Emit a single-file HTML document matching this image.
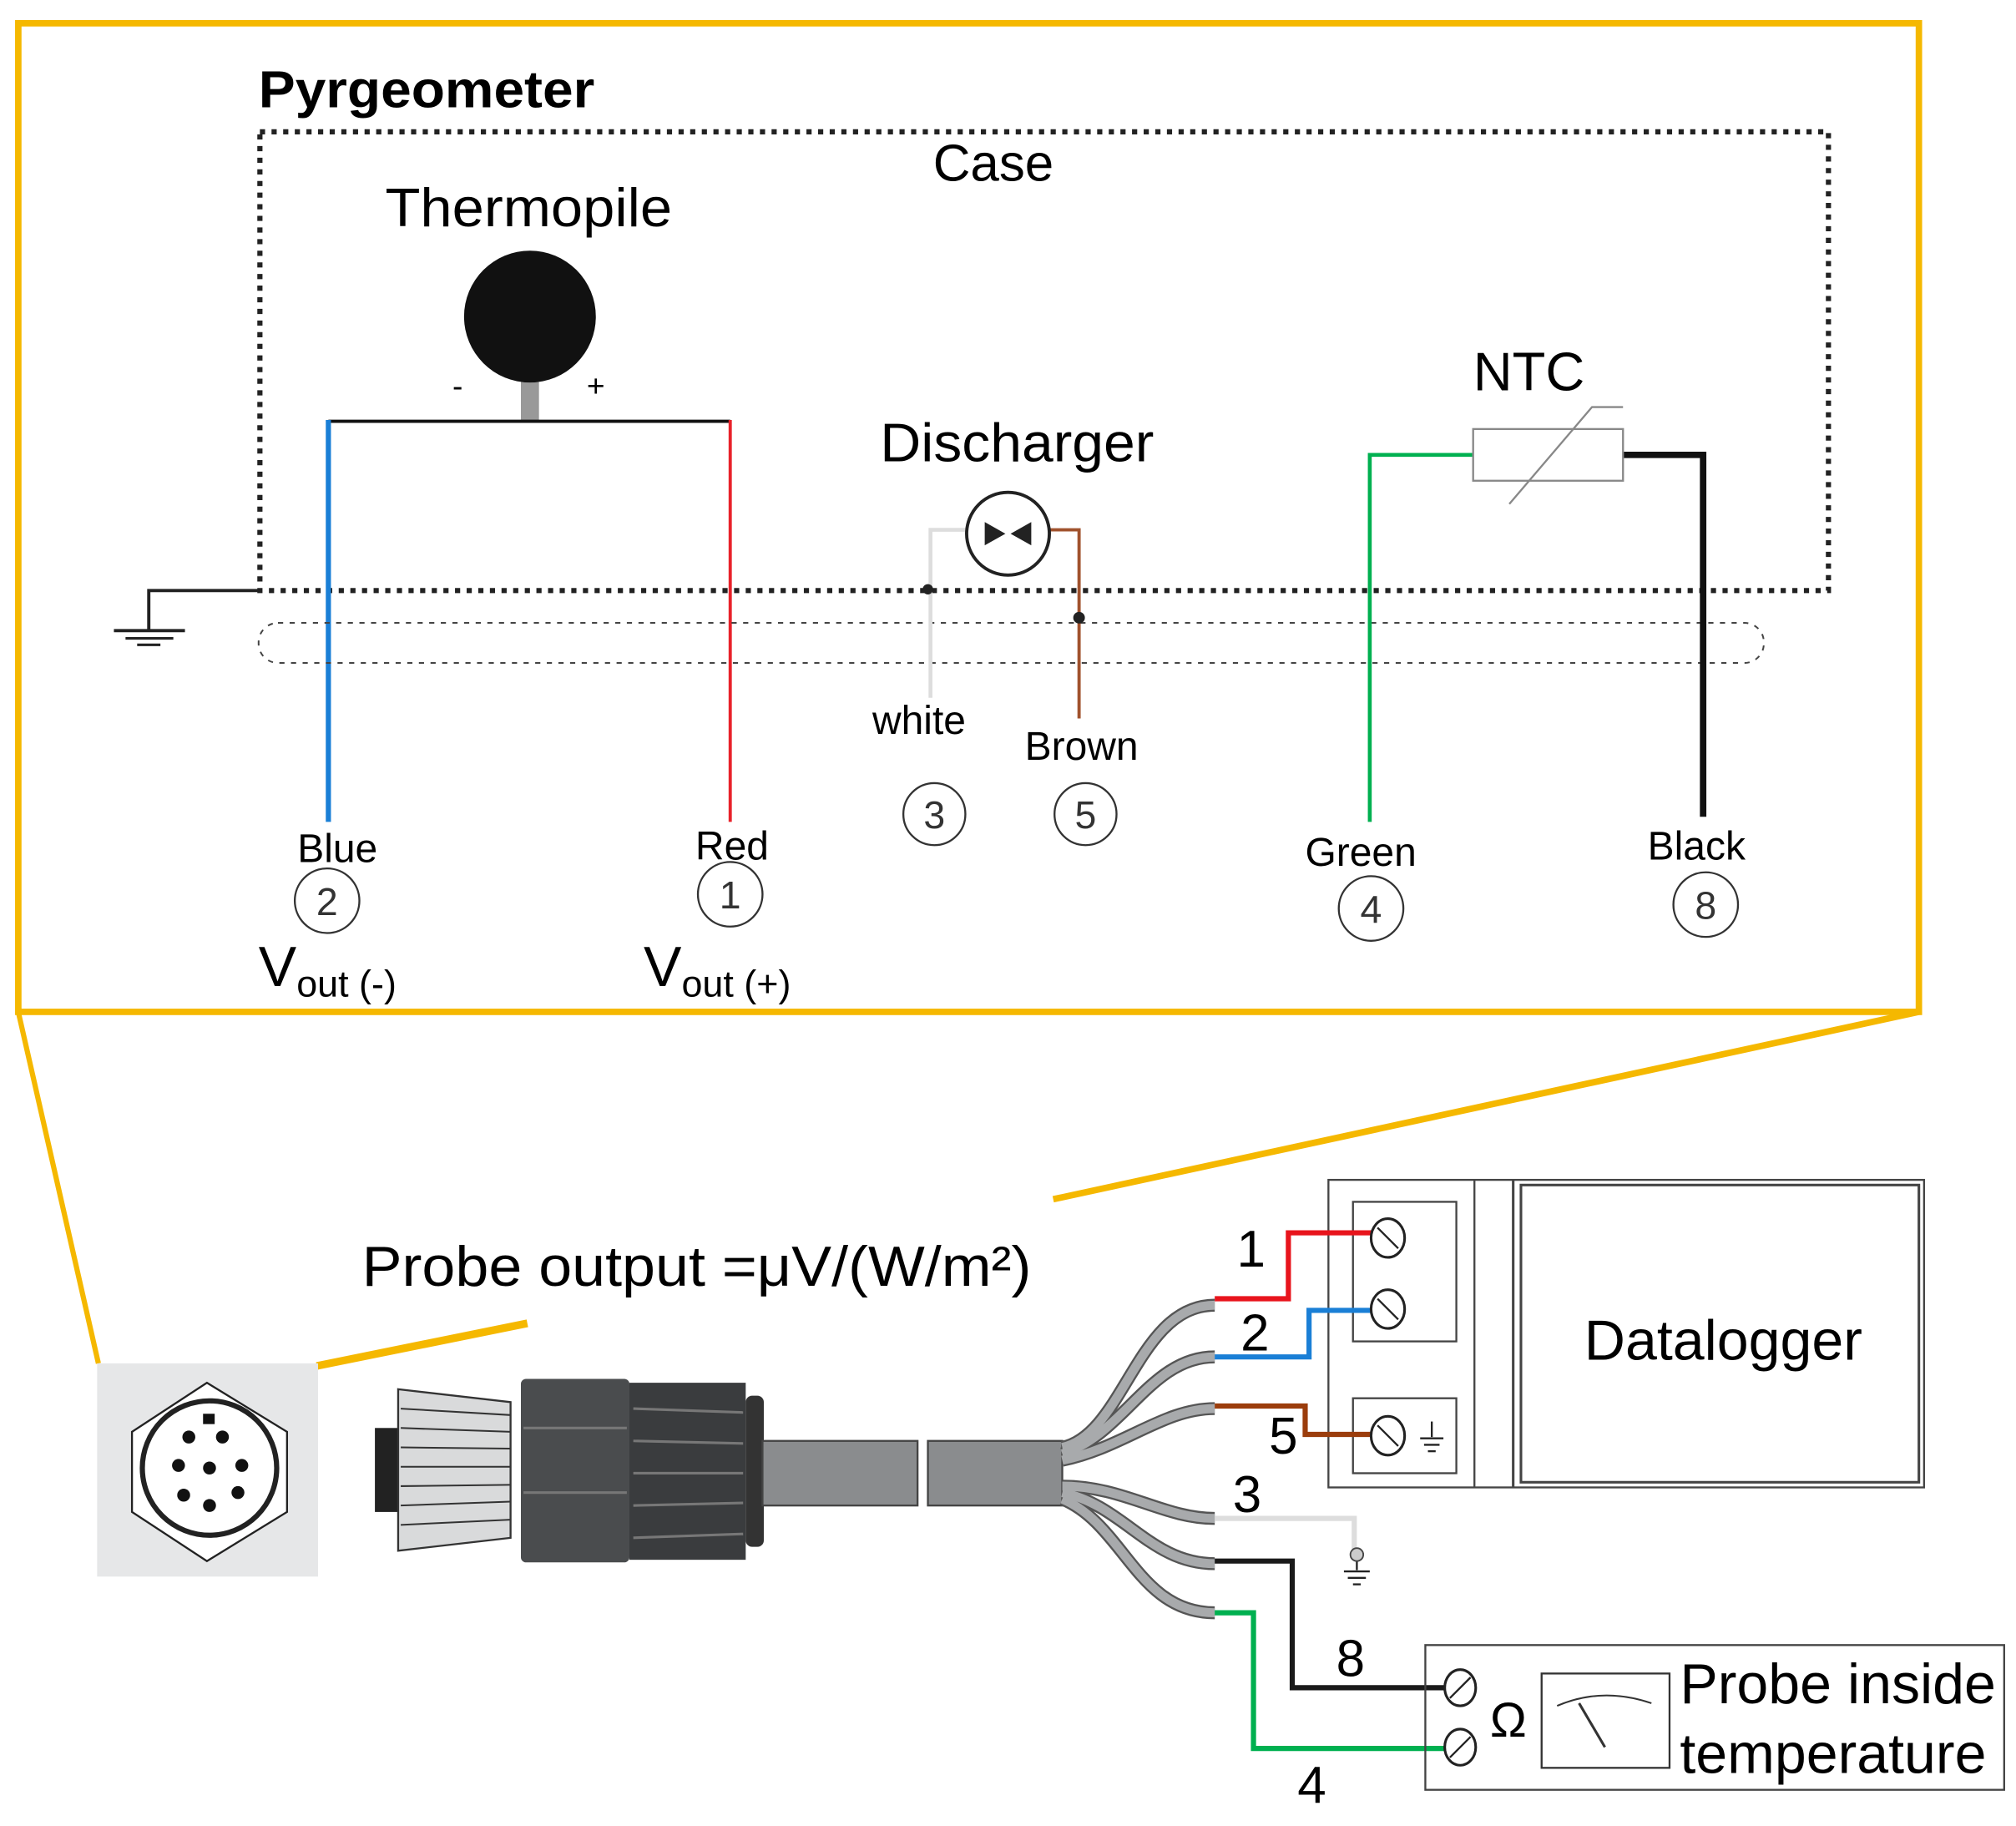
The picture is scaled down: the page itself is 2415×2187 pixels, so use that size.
<!DOCTYPE html>
<html><head><meta charset="utf-8"><style>html,body{margin:0;padding:0;background:#fff}svg{display:block}</style></head>
<body>
<svg width="2415" height="2187" viewBox="0 0 1560 1413" xmlns="http://www.w3.org/2000/svg" font-family="Liberation Sans, sans-serif">
<rect width="1560" height="1413" fill="#fff"/>
<!-- yellow frame -->
<rect x="14" y="18" width="1471" height="765" fill="none" stroke="#f5b800" stroke-width="5"/>
<line x1="14" y1="783" x2="76" y2="1055" stroke="#f5b800" stroke-width="4"/>
<line x1="1485" y1="783" x2="815" y2="928" stroke="#f5b800" stroke-width="5"/>
<line x1="245" y1="1057" x2="408" y2="1024" stroke="#f5b800" stroke-width="6"/>
<text x="200" y="83" font-size="40" font-weight="bold" textLength="260" lengthAdjust="spacingAndGlyphs">Pyrgeometer</text>
<rect x="201" y="102" width="1214" height="355" fill="none" stroke="#222" stroke-width="4" stroke-dasharray="4 5"/>
<text x="722" y="140" font-size="40">Case</text>
<!-- thermopile -->
<text x="298" y="175" font-size="42" textLength="222" lengthAdjust="spacingAndGlyphs">Thermopile</text>
<rect x="403" y="288" width="14" height="38" fill="#999"/>
<circle cx="410" cy="245" r="51" fill="#111"/>
<polyline points="254,326 565,326" stroke="#111" stroke-width="2.5" fill="none"/>
<text x="350" y="307" font-size="24">-</text>
<text x="454" y="307" font-size="24">+</text>
<line x1="254" y1="325" x2="254" y2="636" stroke="#1a7fd6" stroke-width="4"/>
<line x1="565" y1="325" x2="565" y2="636" stroke="#e8222a" stroke-width="2.5"/>
<!-- ground left -->
<polyline points="200,457 115,457 115,487" stroke="#222" stroke-width="2.5" fill="none"/>
<line x1="88" y1="488" x2="143" y2="488" stroke="#222" stroke-width="2.5"/>
<line x1="97" y1="494" x2="134" y2="494" stroke="#222" stroke-width="2"/>
<line x1="106" y1="499" x2="124" y2="499" stroke="#222" stroke-width="2"/>
<!-- cable outline -->
<rect x="200" y="482" width="1165" height="31" rx="15" fill="none" stroke="#444" stroke-width="1.3" stroke-dasharray="4 5"/>
<!-- discharger -->
<text x="681" y="357" font-size="42" textLength="212" lengthAdjust="spacingAndGlyphs">Discharger</text>
<polyline points="748,410 720,410 720,540" stroke="#ddd" stroke-width="3" fill="none"/>
<polyline points="812,410 835,410 835,556" stroke="#a0522d" stroke-width="2.5" fill="none"/>
<circle cx="780" cy="413" r="32" fill="#fff" stroke="#222" stroke-width="2.5"/>
<polygon points="762,404 762,422 778,413" fill="#222"/>
<polygon points="798,404 798,422 782,413" fill="#222"/>
<circle cx="718" cy="456" r="4" fill="#222"/>
<circle cx="835" cy="478" r="4.5" fill="#222"/>
<text x="675" y="568" font-size="31">white</text>
<text x="793" y="588" font-size="31">Brown</text>
<g fill="none" stroke="#333" stroke-width="1.5">
<circle cx="723" cy="630" r="24"/><circle cx="840" cy="630" r="24"/>
<circle cx="253" cy="697" r="25"/><circle cx="565" cy="692" r="25"/>
<circle cx="1061" cy="703" r="25"/><circle cx="1320" cy="700" r="25"/>
</g>
<g font-size="30" fill="#333" text-anchor="middle">
<text x="723" y="641">3</text><text x="840" y="641">5</text>
<text x="253" y="708">2</text><text x="565" y="703">1</text>
<text x="1061" y="714">4</text><text x="1320" y="711">8</text>
</g>
<!-- NTC -->
<text x="1140" y="302" font-size="42">NTC</text>
<polyline points="1140,352 1060,352 1060,636" stroke="#00b050" stroke-width="3" fill="none"/>
<polyline points="1256,352 1318,352 1318,632" stroke="#111" stroke-width="5" fill="none"/>
<rect x="1140" y="332" width="116" height="40" fill="#fff" stroke="#888" stroke-width="1.5"/>
<polyline points="1168,390 1232,315 1256,315" stroke="#888" stroke-width="1.5" fill="none"/>
<!-- labels -->
<g font-size="31">
<text x="230" y="667">Blue</text><text x="538" y="665">Red</text>
<text x="1010" y="670">Green</text><text x="1275" y="665">Black</text>
</g>
<text x="200" y="763" font-size="44">V<tspan font-size="29" dy="8">out (-)</tspan></text>
<text x="498" y="763" font-size="44">V<tspan font-size="29" dy="8">out (+)</tspan></text>
<!-- connector face -->
<rect x="75" y="1055" width="171" height="165" fill="#e6e7e8"/>
<polygon points="160,1070 222,1108 222,1170 160,1208 102,1170 102,1108" fill="#fff" stroke="#222" stroke-width="1.5"/>
<circle cx="162" cy="1136" r="52" fill="#fff" stroke="#222" stroke-width="4"/>
<g fill="#111">
<circle cx="146" cy="1112" r="5"/><circle cx="172" cy="1112" r="5"/>
<circle cx="138" cy="1134" r="5"/><circle cx="162" cy="1136" r="5"/><circle cx="187" cy="1134" r="5"/>
<circle cx="142" cy="1157" r="5"/><circle cx="162" cy="1165" r="5"/><circle cx="184" cy="1155" r="5"/>
<rect x="157" y="1094" width="9" height="8"/>
</g>
<!-- plug -->
<rect x="290" y="1105" width="20" height="65" fill="#222"/>
<polygon points="308,1075 395,1085 395,1190 308,1200" fill="#d9dadb" stroke="#333" stroke-width="1.5"/>
<g stroke="#333" stroke-width="1.3">
<line x1="310" y1="1090" x2="395" y2="1095"/><line x1="310" y1="1105" x2="395" y2="1108"/>
<line x1="310" y1="1120" x2="395" y2="1121"/><line x1="310" y1="1135" x2="395" y2="1135"/>
<line x1="310" y1="1150" x2="395" y2="1149"/><line x1="310" y1="1165" x2="395" y2="1162"/>
<line x1="310" y1="1180" x2="395" y2="1176"/>
</g>
<rect x="403" y="1067" width="84" height="142" rx="4" fill="#4a4c4e"/>
<rect x="487" y="1070" width="90" height="137" fill="#3a3c3e"/>
<g stroke="#777" stroke-width="2"><line x1="490" y1="1090" x2="575" y2="1093"/><line x1="490" y1="1115" x2="575" y2="1117"/><line x1="490" y1="1140" x2="575" y2="1140"/><line x1="490" y1="1165" x2="575" y2="1163"/><line x1="490" y1="1190" x2="575" y2="1187"/><line x1="405" y1="1105" x2="485" y2="1105"/><line x1="405" y1="1155" x2="485" y2="1155"/></g>
<rect x="577" y="1080" width="14" height="117" rx="5" fill="#333"/>
<rect x="590" y="1115" width="120" height="50" fill="#8a8c8e" stroke="#444" stroke-width="1.5"/>
<rect x="718" y="1115" width="104" height="50" fill="#8a8c8e" stroke="#444" stroke-width="1.5"/>
<!-- fanned wires -->
<g fill="none" stroke-linecap="butt">
<g stroke="#555" stroke-width="10">
<path d="M822,1120 C870,1110 880,1010 940,1010"/>
<path d="M822,1125 C870,1110 890,1050 940,1050"/>
<path d="M822,1130 C870,1120 900,1090 940,1090"/>
<path d="M822,1150 C870,1150 900,1175 940,1175"/>
<path d="M822,1155 C870,1165 890,1210 940,1210"/>
<path d="M822,1160 C870,1180 880,1248 940,1248"/>
</g>
<g stroke="#a8aaac" stroke-width="7">
<path d="M822,1120 C870,1110 880,1010 940,1010"/>
<path d="M822,1125 C870,1110 890,1050 940,1050"/>
<path d="M822,1130 C870,1120 900,1090 940,1090"/>
<path d="M822,1150 C870,1150 900,1175 940,1175"/>
<path d="M822,1155 C870,1165 890,1210 940,1210"/>
<path d="M822,1160 C870,1180 880,1248 940,1248"/>
</g>
</g>
<text x="280" y="995" font-size="44" textLength="518" lengthAdjust="spacingAndGlyphs">Probe output =μV/(W/m²)</text>
<!-- datalogger -->
<rect x="1028" y="913" width="461" height="238" fill="#fff" stroke="#444" stroke-width="1.5"/>
<line x1="1141" y1="913" x2="1141" y2="1151" stroke="#444" stroke-width="1.5"/>
<line x1="1171" y1="913" x2="1171" y2="1151" stroke="#444" stroke-width="2"/>
<rect x="1177" y="917" width="308" height="230" fill="none" stroke="#444" stroke-width="2"/>
<rect x="1047" y="930" width="80" height="108" fill="none" stroke="#444" stroke-width="1.5"/>
<rect x="1047" y="1082" width="80" height="58" fill="none" stroke="#444" stroke-width="1.5"/>
<text x="1226" y="1052" font-size="44">Datalogger</text>
<g fill="none" stroke-width="4">
<polyline points="940,1005 997,1005 997,954 1062,954" stroke="#e8141c"/>
<polyline points="940,1050 1013,1050 1013,1014 1062,1014" stroke="#1a7fd6"/>
<polyline points="940,1088 1010,1088 1010,1110 1062,1110" stroke="#9b3d0c"/>
<polyline points="940,1175 1048,1175 1048,1200" stroke="#ddd"/>
<polyline points="940,1208 1000,1208 1000,1306 1118,1306" stroke="#1a1a1a"/>
<polyline points="940,1248 970,1248 970,1353 1118,1353" stroke="#00b050"/>
</g>
<g fill="#fff" stroke="#222" stroke-width="2">
<ellipse cx="1074" cy="958" rx="13" ry="15"/><ellipse cx="1074" cy="1013" rx="13" ry="15"/><ellipse cx="1074" cy="1111" rx="13" ry="15"/>
<ellipse cx="1130" cy="1306" rx="12" ry="14"/><ellipse cx="1130" cy="1352" rx="12" ry="14"/>
</g>
<g stroke="#222" stroke-width="1.5">
<line x1="1066" y1="950" x2="1082" y2="966"/><line x1="1066" y1="1005" x2="1082" y2="1021"/><line x1="1066" y1="1103" x2="1082" y2="1119"/>
<line x1="1122" y1="1314" x2="1138" y2="1298"/><line x1="1122" y1="1360" x2="1138" y2="1344"/>
<line x1="1108" y1="1100" x2="1108" y2="1112"/><line x1="1099" y1="1113" x2="1117" y2="1113"/><line x1="1102" y1="1118" x2="1114" y2="1118"/><line x1="1105" y1="1123" x2="1111" y2="1123"/>
<line x1="1050" y1="1208" x2="1050" y2="1215"/><line x1="1040" y1="1216" x2="1060" y2="1216"/><line x1="1043" y1="1221" x2="1057" y2="1221"/><line x1="1047" y1="1226" x2="1053" y2="1226"/>
</g>
<circle cx="1050" cy="1203" r="5" fill="#ccc" stroke="#444" stroke-width="1.2"/>
<g font-size="40">
<text x="957" y="980">1</text><text x="960" y="1045">2</text><text x="982" y="1125">5</text>
<text x="954" y="1170">3</text><text x="1034" y="1297">8</text><text x="1004" y="1395">4</text>
</g>
<!-- probe box -->
<rect x="1103" y="1273" width="448" height="112" fill="none" stroke="#444" stroke-width="1.5"/>
<text x="1153" y="1344" font-size="38">Ω</text>
<rect x="1193" y="1295" width="99" height="73" fill="none" stroke="#333" stroke-width="1.5"/>
<path d="M1205,1320 Q1240,1305 1278,1318" fill="none" stroke="#333" stroke-width="1.3"/>
<line x1="1222" y1="1318" x2="1242" y2="1352" stroke="#333" stroke-width="2"/>
<text x="1300" y="1318" font-size="44">Probe inside</text>
<text x="1300" y="1372" font-size="44">temperature</text>
</svg>
</body></html>
